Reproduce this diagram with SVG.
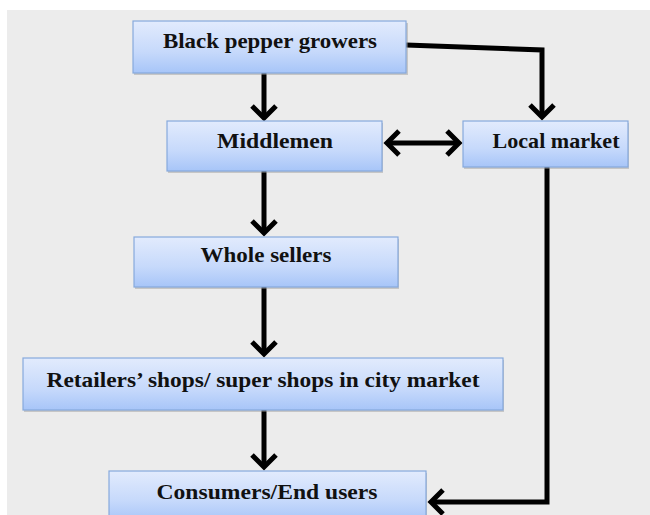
<svg xmlns="http://www.w3.org/2000/svg" width="650" height="515" viewBox="0 0 650 515">
<style>
.box{fill:url(#g);stroke:#86a9dc;stroke-width:1.2}
.sh{fill:#9a9a9a;opacity:0.45}
.t{font-family:"Liberation Serif","Times New Roman",serif;font-weight:bold;font-size:22px;fill:#111;text-anchor:middle}
.c{fill:none;stroke:#000;stroke-width:5;stroke-linejoin:miter}
</style>
<defs>
<linearGradient id="g" x1="0" y1="0" x2="0" y2="1">
<stop offset="0" stop-color="#e2ebfd"/>
<stop offset="0.6" stop-color="#c6d9fb"/>
<stop offset="1" stop-color="#a7c5f8"/>
</linearGradient>
<marker id="a" markerUnits="userSpaceOnUse" markerWidth="30" markerHeight="30" viewBox="0 0 30 30" refX="17" refY="15" orient="auto-start-reverse">
<path d="M5,3 L17,15 L5,27" fill="none" stroke="#000" stroke-width="5"/>
</marker>
</defs>
<rect x="0" y="0" width="650" height="515" fill="#fff"/>
<rect x="7" y="10" width="643" height="505" fill="#ececec"/>
<g id="connectors">
<path class="c" d="M264,73 V118" marker-end="url(#a)"/>
<path class="c" d="M406,45 L542,50 V117" marker-end="url(#a)"/>
<path class="c" d="M387,143 H459" marker-start="url(#a)" marker-end="url(#a)"/>
<path class="c" d="M264,171 V233" marker-end="url(#a)"/>
<path class="c" d="M264,287 V354" marker-end="url(#a)"/>
<path class="c" d="M264,410 V467" marker-end="url(#a)"/>
<path class="c" d="M547,167 V502 H431" marker-end="url(#a)"/>
</g>
<g id="growers">
<rect class="sh" x="134" y="23" width="274" height="52"/>
<rect class="box" x="133" y="21" width="273" height="52"/>
<text class="t" x="270" y="48" textLength="214" lengthAdjust="spacingAndGlyphs">Black pepper growers</text>
</g>
<g id="middlemen">
<rect class="sh" x="168" y="123" width="215" height="50"/>
<rect class="box" x="167" y="121" width="215" height="50"/>
<text class="t" x="275" y="148" textLength="116" lengthAdjust="spacingAndGlyphs">Middlemen</text>
</g>
<g id="localmarket">
<rect class="sh" x="464" y="123" width="165" height="46"/>
<rect class="box" x="463" y="121" width="165" height="46"/>
<text class="t" x="556" y="148" textLength="127" lengthAdjust="spacingAndGlyphs">Local market</text>
</g>
<g id="wholesellers">
<rect class="sh" x="135" y="239" width="264" height="50"/>
<rect class="box" x="134" y="237" width="264" height="50"/>
<text class="t" x="266" y="262" textLength="131" lengthAdjust="spacingAndGlyphs">Whole sellers</text>
</g>
<g id="retailers">
<rect class="sh" x="24" y="360" width="480" height="52"/>
<rect class="box" x="23" y="358" width="480" height="52"/>
<text class="t" x="263" y="387" textLength="433" lengthAdjust="spacingAndGlyphs">Retailers’ shops/ super shops in city market</text>
</g>
<g id="consumers">
<rect class="sh" x="110" y="473" width="317" height="50"/>
<rect class="box" x="109" y="471" width="317" height="50"/>
<text class="t" x="267" y="499" textLength="221" lengthAdjust="spacingAndGlyphs">Consumers/End users</text>
</g>
</svg>
